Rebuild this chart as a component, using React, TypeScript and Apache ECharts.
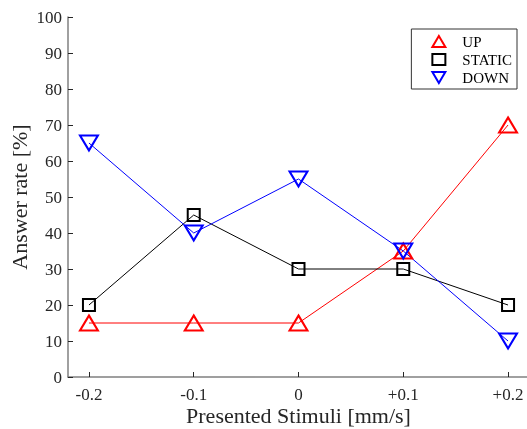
import React, { useEffect, useRef } from "react";
import * as echarts from "echarts";

const xValues = [-0.2, -0.1, 0, 0.1, 0.2];
const xTickLabels = ["-0.2", "-0.1", "0", "+0.1", "+0.2"];
const upValues = [15, 15, 15, 35, 70];
const staticValues = [20, 45, 30, 30, 20];
const downValues = [65, 40, 55, 35, 10];

const FONT = "Liberation Serif";
const downPath = "path://M0,0 L20,0 L10,17 Z";

export default function App() {
  const ref = useRef<HTMLDivElement>(null);
  useEffect(() => {
    const chart = echarts.init(ref.current!, null, { renderer: "svg" });
    const labelMap: Record<string, string> = {};
    xValues.forEach((v, i) => (labelMap[v.toFixed(1)] = xTickLabels[i]));
    const mk = (name: string, vals: number[], color: string, symbol: string, size: any) => ({
      name,
      type: "line",
      data: xValues.map((x, i) => [x, vals[i]]),
      symbol,
      symbolSize: size,
      showAllSymbol: true,
      lineStyle: { color, width: 1 },
      itemStyle: { color: "rgba(0,0,0,0)", borderColor: color, borderWidth: 2 },
      emphasis: { disabled: true },
    });
    chart.setOption({
      animation: false,
      textStyle: { fontFamily: FONT },
      grid: { left: 68, right: -2, top: 17, bottom: 52, outerBoundsMode: "none", containLabel: false },
      legend: {
        right: 10,
        top: 29,
        orient: "vertical",
        itemGap: 3,
        itemWidth: 13,
        itemHeight: 11,
        padding: [5, 5, 4, 20],
        borderColor: "#333",
        borderWidth: 1,
        backgroundColor: "#fff",
        textStyle: { fontFamily: FONT, fontSize: 15, color: "#000", padding: [0, 0, 0, 12] },
        data: [
          { name: "UP", icon: "triangle", itemStyle: { color: "rgba(0,0,0,0)", borderColor: "#ff0000", borderWidth: 2 } },
          { name: "STATIC", icon: "rect", itemStyle: { color: "rgba(0,0,0,0)", borderColor: "#000", borderWidth: 2 } },
          { name: "DOWN", icon: downPath, itemStyle: { color: "rgba(0,0,0,0)", borderColor: "#0000ff", borderWidth: 2 } },
        ],
      },
      xAxis: {
        type: "value",
        min: -0.22,
        max: 0.22,
        name: "Presented Stimuli [mm/s]",
        nameLocation: "middle",
        nameGap: 27,
        nameMoveOverlap: false,
        nameTextStyle: { fontFamily: FONT, fontSize: 22, color: "#262626" },
        splitLine: { show: false },
        axisLine: { onZero: false, lineStyle: { color: "#808080", width: 1.5 } },
        axisTick: { inside: true, length: 5, customValues: xValues, lineStyle: { color: "#262626" } },
        axisLabel: {
          customValues: xValues,
          fontFamily: FONT,
          fontSize: 17,
          color: "#262626",
          margin: 9,
          formatter: (v: number) => labelMap[v.toFixed(1)] ?? "",
        },
      },
      yAxis: {
        type: "value",
        min: 0,
        max: 100,
        interval: 10,
        name: "Answer rate [%]",
        nameLocation: "middle",
        nameGap: 38,
        nameMoveOverlap: false,
        nameTextStyle: { fontFamily: FONT, fontSize: 22, color: "#262626" },
        splitLine: { show: false },
        axisLine: { show: true, onZero: false, lineStyle: { color: "#808080", width: 1.5 } },
        axisTick: { show: true, inside: true, length: 5, lineStyle: { color: "#262626" } },
        axisLabel: { fontFamily: FONT, fontSize: 17, color: "#262626", margin: 6 },
      },
      series: [
        mk("UP", upValues, "#ff0000", "triangle", [18, 15]),
        mk("STATIC", staticValues, "#000000", "rect", 12),
        mk("DOWN", downValues, "#0000ff", downPath, [18, 15]),
      ],
    });
    return () => chart.dispose();
  }, []);
  return (
    <div
      ref={ref}
      style={{ position: "fixed", left: 0, top: 0, width: 527, height: 429, overflow: "hidden" }}
    />
  );
}
